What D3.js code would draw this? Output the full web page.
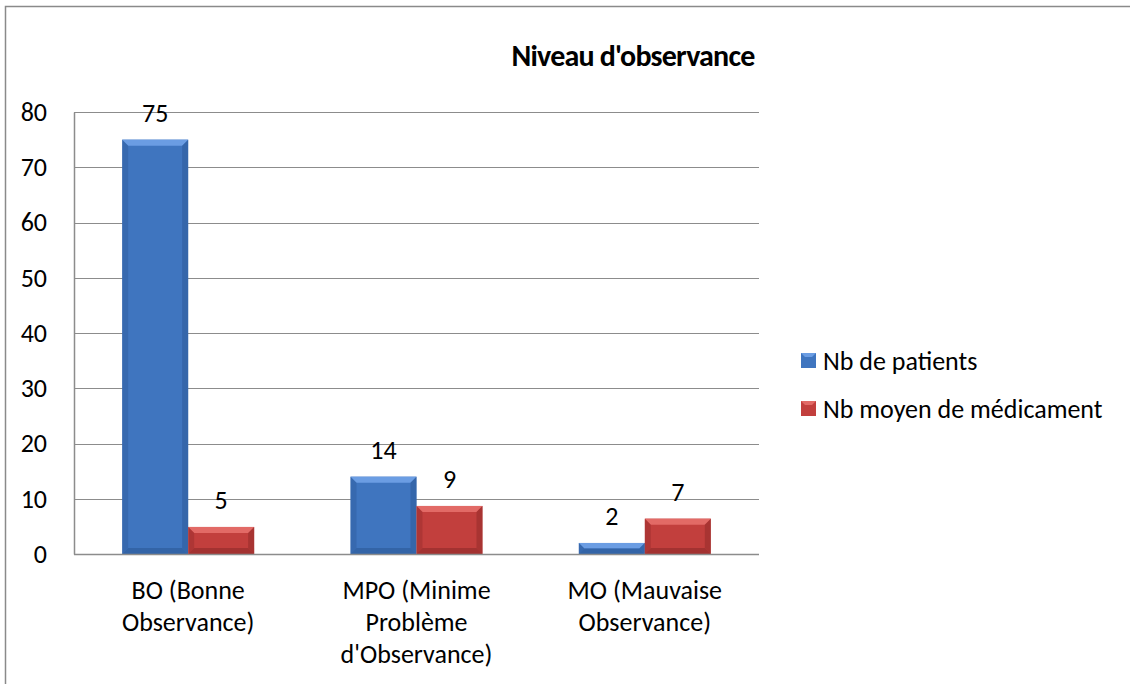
<!DOCTYPE html>
<html>
<head>
<meta charset="utf-8">
<script src="https://cdn.jsdelivr.net/npm/d3@7"></script>
<style>
  body { margin: 0; background: #fff; }
  text { font-family: Carlito, Lato, sans-serif; fill: #000; }
</style>
</head>
<body>
<svg id="chart" width="1130" height="684"></svg>
<script>
// chart data
let categories = ["BO (Bonne Observance)", "MPO (Minime Problème d'Observance)", "MO (Mauvaise Observance)"];
let categoryLines = [["BO (Bonne", "Observance)"], ["MPO (Minime", "Problème", "d'Observance)"], ["MO (Mauvaise", "Observance)"]];
let seriesNames = ["Nb de patients", "Nb moyen de médicament"];
let patients = [75, 14, 2];
let medicaments = [4.9, 8.7, 6.4];
let patientLabels = ["75", "14", "2"];
let medicamentLabels = ["5", "9", "7"];
let yTicks = [0, 10, 20, 30, 40, 50, 60, 70, 80];

let colors = {
    "Nb de patients": {main: "#3f75bf", light: "#6b9de3", dark: "#2f5c9c"},
    "Nb moyen de médicament": {main: "#c23f3d", light: "#e26a66", dark: "#962d2c"}
};

let fontSize = "26px";

let svg = d3.select("#chart");

// outer frame (runs off the right / bottom of the picture)
svg.append("rect")
    .attr("x", 5.5).attr("y", 6.5)
    .attr("width", 1300).attr("height", 900)
    .attr("fill", "none").attr("stroke", "#8a8a8a").attr("stroke-width", 1.5);

let plot = {left: 74, right: 759, top: 112, bottom: 554};

let x0 = d3.scaleBand().domain(categories).range([plot.left, plot.right]);
let x1 = d3.scaleBand().domain(seriesNames).range([0, x0.bandwidth()]).paddingOuter(0.73);
let y = d3.scaleLinear().domain([0, 80]).range([plot.bottom, plot.top]);

// title
svg.append("text")
    .attr("x", 633).attr("y", 55)
    .attr("text-anchor", "middle").attr("dy", "0.35em")
    .style("font-size", "30px").style("font-weight", "900")
    .style("letter-spacing", "-0.8px")
    .text("Niveau d'observance");

// grid lines
svg.append("g")
    .selectAll("line")
    .data(yTicks.slice(1))
    .enter().append("line")
    .attr("x1", plot.left).attr("x2", plot.right)
    .attr("y1", d => Math.round(y(d)) + 0.5).attr("y2", d => Math.round(y(d)) + 0.5)
    .attr("stroke", "#8c8c8c").attr("stroke-width", 1);

// y axis
let yAxis = svg.append("g")
    .attr("transform", "translate(" + plot.left + ",0)")
    .call(d3.axisLeft(y).tickValues(yTicks).tickSize(0).tickPadding(27));
yAxis.select(".domain").attr("stroke", "#8c8c8c").attr("stroke-width", 1.5);
yAxis.selectAll("text").style("font-size", fontSize).attr("fill", "#000");

// bars
let rows = categories.map(function(c, i) {
    return [
        {cat: c, s: seriesNames[0], v: patients[i], label: patientLabels[i]},
        {cat: c, s: seriesNames[1], v: medicaments[i], label: medicamentLabels[i]}
    ];
});
let flat = [].concat.apply([], rows);

let bars = svg.append("g").selectAll("g")
    .data(flat)
    .enter().append("g")
    .attr("transform", d => "translate(" + (x0(d.cat) + x1(d.s)) + "," + y(d.v) + ")");

let bw = x1.bandwidth();
let bev = 6;

bars.append("rect")
    .attr("width", bw)
    .attr("height", d => y(0) - y(d.v))
    .attr("fill", d => colors[d.s].main);

// bevel edges
bars.append("polygon")
    .attr("points", d => {
        let h = y(0) - y(d.v), b = Math.min(bev, h / 2);
        return [[0, 0], [bw, 0], [bw - b, b], [b, b]].join(" ");
    })
    .attr("fill", d => colors[d.s].light);
bars.append("polygon")
    .attr("points", d => {
        let h = y(0) - y(d.v), b = Math.min(bev, h / 2);
        return [[0, 0], [b, b], [b, h - b], [0, h]].join(" ");
    })
    .attr("fill", d => colors[d.s].dark).attr("opacity", 0.45);
bars.append("polygon")
    .attr("points", d => {
        let h = y(0) - y(d.v), b = Math.min(bev, h / 2);
        return [[bw, 0], [bw - b, b], [bw - b, h - b], [bw, h]].join(" ");
    })
    .attr("fill", d => colors[d.s].dark).attr("opacity", 0.6);
bars.append("polygon")
    .attr("points", d => {
        let h = y(0) - y(d.v), b = Math.min(bev, h / 2);
        return [[0, h], [b, h - b], [bw - b, h - b], [bw, h]].join(" ");
    })
    .attr("fill", d => colors[d.s].dark).attr("opacity", 0.7);

// data labels
bars.append("text")
    .attr("x", bw / 2).attr("y", -27)
    .attr("dy", "0.35em").attr("text-anchor", "middle")
    .style("font-size", fontSize)
    .text(d => d.label);

// x axis line
svg.append("line")
    .attr("x1", plot.left).attr("x2", plot.right)
    .attr("y1", plot.bottom + 0.5).attr("y2", plot.bottom + 0.5)
    .attr("stroke", "#8c8c8c").attr("stroke-width", 1.5);

// category labels
let catG = svg.append("g").selectAll("text")
    .data(categories)
    .enter().append("text")
    .attr("text-anchor", "middle")
    .attr("x", d => x0(d) + x0.bandwidth() / 2)
    .attr("y", 590)
    .style("font-size", fontSize);
catG.selectAll("tspan")
    .data((d, i) => categoryLines[i])
    .enter().append("tspan")
    .attr("x", function() { return d3.select(this.parentNode).attr("x"); })
    .attr("dy", (d, i) => i === 0 ? "0.35em" : "31.8px")
    .text(d => d);

// legend
let legend = svg.append("g").selectAll("g")
    .data(seriesNames)
    .enter().append("g")
    .attr("transform", (d, i) => "translate(801," + (353 + i * 48) + ")");
legend.append("rect")
    .attr("width", 15).attr("height", 15)
    .attr("fill", d => colors[d].main);
legend.append("polygon")
    .attr("points", "0,0 15,0 11,4 4,4")
    .attr("fill", d => colors[d].light);
legend.append("text")
    .attr("x", 22).attr("y", 7.5).attr("dy", "0.35em")
    .style("font-size", fontSize)
    .text(d => d);
</script>
</body>
</html>
